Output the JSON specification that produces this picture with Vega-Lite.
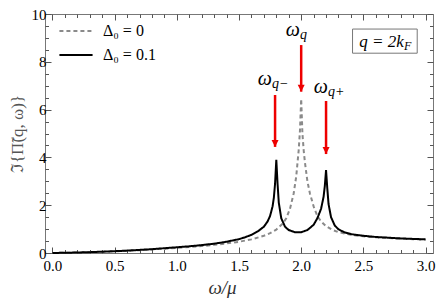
{
  "$schema": "https://vega.github.io/schema/vega-lite/v6.json",
  "width": 388,
  "height": 239,
  "autosize": {"type": "none"},
  "padding": {"left": 45, "top": 14, "right": 10, "bottom": 52},
  "background": "white",
  "config": {
    "view": {"stroke": "#777777", "strokeWidth": 1},
    "font": "Liberation Serif"
  },
  "datasets": {
    "curves": [
      {"x":0,"v":0,"s":"Δ₀ = 0"},{"x":0.1,"v":0.01,"s":"Δ₀ = 0"},{"x":0.2,"v":0.02,"s":"Δ₀ = 0"},{"x":0.3,"v":0.035,"s":"Δ₀ = 0"},{"x":0.4,"v":0.05,"s":"Δ₀ = 0"},{"x":0.5,"v":0.07,"s":"Δ₀ = 0"},{"x":0.6,"v":0.09,"s":"Δ₀ = 0"},{"x":0.7,"v":0.12,"s":"Δ₀ = 0"},{"x":0.8,"v":0.15,"s":"Δ₀ = 0"},{"x":0.9,"v":0.18,"s":"Δ₀ = 0"},{"x":1.0,"v":0.21,"s":"Δ₀ = 0"},{"x":1.1,"v":0.25,"s":"Δ₀ = 0"},{"x":1.2,"v":0.29,"s":"Δ₀ = 0"},{"x":1.3,"v":0.34,"s":"Δ₀ = 0"},{"x":1.4,"v":0.40,"s":"Δ₀ = 0"},{"x":1.5,"v":0.47,"s":"Δ₀ = 0"},{"x":1.6,"v":0.57,"s":"Δ₀ = 0"},{"x":1.7,"v":0.72,"s":"Δ₀ = 0"},{"x":1.75,"v":0.83,"s":"Δ₀ = 0"},{"x":1.8,"v":0.98,"s":"Δ₀ = 0"},{"x":1.85,"v":1.22,"s":"Δ₀ = 0"},{"x":1.88,"v":1.45,"s":"Δ₀ = 0"},{"x":1.91,"v":1.85,"s":"Δ₀ = 0"},{"x":1.94,"v":2.5,"s":"Δ₀ = 0"},{"x":1.96,"v":3.2,"s":"Δ₀ = 0"},{"x":1.98,"v":4.3,"s":"Δ₀ = 0"},{"x":1.99,"v":5.1,"s":"Δ₀ = 0"},{"x":2.0,"v":6.45,"s":"Δ₀ = 0"},{"x":2.01,"v":5.0,"s":"Δ₀ = 0"},{"x":2.02,"v":4.3,"s":"Δ₀ = 0"},{"x":2.03,"v":3.8,"s":"Δ₀ = 0"},{"x":2.05,"v":3.0,"s":"Δ₀ = 0"},{"x":2.07,"v":2.5,"s":"Δ₀ = 0"},{"x":2.1,"v":1.95,"s":"Δ₀ = 0"},{"x":2.13,"v":1.55,"s":"Δ₀ = 0"},{"x":2.16,"v":1.32,"s":"Δ₀ = 0"},{"x":2.2,"v":1.12,"s":"Δ₀ = 0"},{"x":2.25,"v":0.97,"s":"Δ₀ = 0"},{"x":2.3,"v":0.87,"s":"Δ₀ = 0"},{"x":2.4,"v":0.76,"s":"Δ₀ = 0"},{"x":2.5,"v":0.70,"s":"Δ₀ = 0"},{"x":2.6,"v":0.66,"s":"Δ₀ = 0"},{"x":2.7,"v":0.63,"s":"Δ₀ = 0"},{"x":2.8,"v":0.60,"s":"Δ₀ = 0"},{"x":2.9,"v":0.58,"s":"Δ₀ = 0"},{"x":3.0,"v":0.56,"s":"Δ₀ = 0"},
      {"x":0,"v":0,"s":"Δ₀ = 0.1"},{"x":0.1,"v":0.01,"s":"Δ₀ = 0.1"},{"x":0.2,"v":0.02,"s":"Δ₀ = 0.1"},{"x":0.3,"v":0.035,"s":"Δ₀ = 0.1"},{"x":0.4,"v":0.055,"s":"Δ₀ = 0.1"},{"x":0.5,"v":0.075,"s":"Δ₀ = 0.1"},{"x":0.6,"v":0.10,"s":"Δ₀ = 0.1"},{"x":0.7,"v":0.13,"s":"Δ₀ = 0.1"},{"x":0.8,"v":0.16,"s":"Δ₀ = 0.1"},{"x":0.9,"v":0.20,"s":"Δ₀ = 0.1"},{"x":1.0,"v":0.24,"s":"Δ₀ = 0.1"},{"x":1.1,"v":0.28,"s":"Δ₀ = 0.1"},{"x":1.2,"v":0.33,"s":"Δ₀ = 0.1"},{"x":1.3,"v":0.39,"s":"Δ₀ = 0.1"},{"x":1.4,"v":0.47,"s":"Δ₀ = 0.1"},{"x":1.5,"v":0.58,"s":"Δ₀ = 0.1"},{"x":1.55,"v":0.66,"s":"Δ₀ = 0.1"},{"x":1.6,"v":0.76,"s":"Δ₀ = 0.1"},{"x":1.65,"v":0.9,"s":"Δ₀ = 0.1"},{"x":1.7,"v":1.1,"s":"Δ₀ = 0.1"},{"x":1.73,"v":1.32,"s":"Δ₀ = 0.1"},{"x":1.75,"v":1.55,"s":"Δ₀ = 0.1"},{"x":1.77,"v":1.95,"s":"Δ₀ = 0.1"},{"x":1.78,"v":2.3,"s":"Δ₀ = 0.1"},{"x":1.79,"v":2.9,"s":"Δ₀ = 0.1"},{"x":1.8,"v":3.9,"s":"Δ₀ = 0.1"},{"x":1.81,"v":2.9,"s":"Δ₀ = 0.1"},{"x":1.82,"v":2.1,"s":"Δ₀ = 0.1"},{"x":1.84,"v":1.45,"s":"Δ₀ = 0.1"},{"x":1.87,"v":1.1,"s":"Δ₀ = 0.1"},{"x":1.9,"v":0.96,"s":"Δ₀ = 0.1"},{"x":1.95,"v":0.87,"s":"Δ₀ = 0.1"},{"x":2.0,"v":0.87,"s":"Δ₀ = 0.1"},{"x":2.05,"v":0.96,"s":"Δ₀ = 0.1"},{"x":2.1,"v":1.18,"s":"Δ₀ = 0.1"},{"x":2.13,"v":1.45,"s":"Δ₀ = 0.1"},{"x":2.16,"v":1.85,"s":"Δ₀ = 0.1"},{"x":2.18,"v":2.35,"s":"Δ₀ = 0.1"},{"x":2.19,"v":2.8,"s":"Δ₀ = 0.1"},{"x":2.2,"v":3.47,"s":"Δ₀ = 0.1"},{"x":2.21,"v":2.7,"s":"Δ₀ = 0.1"},{"x":2.22,"v":2.05,"s":"Δ₀ = 0.1"},{"x":2.24,"v":1.5,"s":"Δ₀ = 0.1"},{"x":2.27,"v":1.15,"s":"Δ₀ = 0.1"},{"x":2.3,"v":0.99,"s":"Δ₀ = 0.1"},{"x":2.35,"v":0.86,"s":"Δ₀ = 0.1"},{"x":2.4,"v":0.79,"s":"Δ₀ = 0.1"},{"x":2.5,"v":0.72,"s":"Δ₀ = 0.1"},{"x":2.6,"v":0.67,"s":"Δ₀ = 0.1"},{"x":2.7,"v":0.64,"s":"Δ₀ = 0.1"},{"x":2.8,"v":0.61,"s":"Δ₀ = 0.1"},{"x":2.9,"v":0.59,"s":"Δ₀ = 0.1"},{"x":3.0,"v":0.57,"s":"Δ₀ = 0.1"}
    ],
    "arrows": [
      {"x":1.79,"top":6.61,"tip":4.44},
      {"x":2.0,"top":8.7,"tip":6.75},
      {"x":2.2,"top":6.36,"tip":4.14}
    ],
    "labels": [
      {"x":1.765,"y":7.03,"main":"ω","sub":"q−"},
      {"x":1.99,"y":9.08,"main":"ω","sub":"q"},
      {"x":2.215,"y":6.69,"main":"ω","sub":"q+"}
    ],
    "box": [
      {"x1":2.413,"x2":2.933,"y1":9.37,"y2":8.36,"x":2.826,"y":8.6,"main":"q = 2k","sub":"F"}
    ]
  },
  "resolve": {"axis": {"x": "independent", "y": "independent"}},
  "layer": [
    {
      "data": {"name": "curves"},
      "mark": {"type": "line", "strokeWidth": 2},
      "encoding": {
        "x": {
          "field": "x", "type": "quantitative",
          "scale": {"domain": [-0.06, 3.06], "nice": false, "zero": false},
          "axis": {
            "orient": "bottom",
            "values": [0,0.1,0.2,0.3,0.4,0.5,0.6,0.7,0.8,0.9,1,1.1,1.2,1.3,1.4,1.5,1.6,1.7,1.8,1.9,2,2.1,2.2,2.3,2.4,2.5,2.6,2.7,2.8,2.9,3],
            "labelExpr": "abs(datum.value*2 - round(datum.value*2)) < 1e-6 ? format(datum.value, '.1f') : ''",
            "tickSize": {"condition": {"test": "abs(datum.value*2 - round(datum.value*2)) < 1e-6", "value": -6}, "value": -3.5},
            "tickColor": "#555555",
            "domain": false,
            "grid": false,
            "labelFont": "Liberation Serif",
            "labelFontSize": 15,
            "labelColor": "#000000",
            "labelPadding": 11,
            "labelOverlap": false,
            "labelFlush": false,
            "title": "ω/μ",
            "titleFont": "Liberation Serif",
            "titleFontStyle": "italic",
            "titleFontWeight": "normal",
            "titleFontSize": 19,
            "titleColor": "#333333",
            "titleX": 177,
            "titlePadding": 3
          }
        },
        "y": {
          "field": "v", "type": "quantitative",
          "scale": {"domain": [0, 10], "nice": false, "zero": false},
          "axis": {
            "orient": "left",
            "values": [0,0.5,1,1.5,2,2.5,3,3.5,4,4.5,5,5.5,6,6.5,7,7.5,8,8.5,9,9.5,10],
            "labelExpr": "abs(datum.value/2 - round(datum.value/2)) < 1e-6 ? format(datum.value, 'd') : ''",
            "tickSize": {"condition": {"test": "abs(datum.value/2 - round(datum.value/2)) < 1e-6", "value": -6}, "value": -3.5},
            "tickColor": "#555555",
            "domain": false,
            "grid": false,
            "labelFont": "Liberation Serif",
            "labelFontSize": 15,
            "labelColor": "#000000",
            "labelPadding": 5,
            "labelOverlap": false,
            "labelFlush": false,
            "title": "ℑ{Π̃(q, ω)}",
            "titleFont": "Liberation Serif",
            "titleFontWeight": "normal",
            "titleFontSize": 17,
            "titleColor": "#555555",
            "titlePadding": 5
          }
        },
        "color": {
          "field": "s", "type": "nominal",
          "scale": {"domain": ["Δ₀ = 0", "Δ₀ = 0.1"], "range": ["#8a8a8a", "#000000"]},
          "legend": {
            "orient": "none", "legendX": 13, "legendY": 9, "title": null,
            "symbolType": "stroke", "symbolSize": 1100, "symbolStrokeWidth": 2,
            "labelFont": "Liberation Serif", "labelFontSize": 16, "labelColor": "#000000",
            "clipHeight": 16, "rowPadding": 8, "labelOffset": 9
          }
        },
        "strokeDash": {
          "field": "s", "type": "nominal",
          "scale": {"domain": ["Δ₀ = 0", "Δ₀ = 0.1"], "range": [[4, 3], [1, 0]]},
          "legend": null
        }
      }
    },
    {
      "data": {"name": "box"},
      "mark": {"type": "rect", "fill": "#ffffff", "stroke": "#777777", "strokeWidth": 1},
      "encoding": {
        "x": {
          "field": "x1", "type": "quantitative",
          "scale": {"domain": [-0.06, 3.06], "nice": false, "zero": false},
          "axis": {
            "orient": "top",
            "values": [0,0.1,0.2,0.3,0.4,0.5,0.6,0.7,0.8,0.9,1,1.1,1.2,1.3,1.4,1.5,1.6,1.7,1.8,1.9,2,2.1,2.2,2.3,2.4,2.5,2.6,2.7,2.8,2.9,3],
            "labels": false,
            "tickSize": {"condition": {"test": "abs(datum.value*2 - round(datum.value*2)) < 1e-6", "value": -6}, "value": -3.5},
            "tickColor": "#555555",
            "domain": false, "grid": false, "title": null
          }
        },
        "x2": {"field": "x2"},
        "y": {
          "field": "y1", "type": "quantitative",
          "scale": {"domain": [0, 10], "nice": false, "zero": false},
          "axis": {
            "orient": "right",
            "values": [0,0.5,1,1.5,2,2.5,3,3.5,4,4.5,5,5.5,6,6.5,7,7.5,8,8.5,9,9.5,10],
            "labels": false,
            "tickSize": {"condition": {"test": "abs(datum.value/2 - round(datum.value/2)) < 1e-6", "value": -6}, "value": -3.5},
            "tickColor": "#555555",
            "domain": false, "grid": false, "title": null
          }
        },
        "y2": {"field": "y2"}
      }
    },
    {
      "data": {"name": "box"},
      "mark": {"type": "text", "align": "right", "baseline": "alphabetic", "font": "Liberation Serif", "fontStyle": "italic", "fontSize": 17, "color": "#000000"},
      "encoding": {
        "x": {"field": "x", "type": "quantitative", "scale": {"domain": [-0.06, 3.06], "nice": false, "zero": false}, "axis": null},
        "y": {"field": "y", "type": "quantitative", "scale": {"domain": [0, 10], "nice": false, "zero": false}, "axis": null},
        "text": {"field": "main"}
      }
    },
    {
      "data": {"name": "box"},
      "mark": {"type": "text", "align": "left", "baseline": "alphabetic", "font": "Liberation Serif", "fontStyle": "italic", "fontSize": 12, "dy": 3, "color": "#000000"},
      "encoding": {
        "x": {"field": "x", "type": "quantitative", "scale": {"domain": [-0.06, 3.06], "nice": false, "zero": false}, "axis": null},
        "y": {"field": "y", "type": "quantitative", "scale": {"domain": [0, 10], "nice": false, "zero": false}, "axis": null},
        "text": {"field": "sub"}
      }
    },
    {
      "data": {"name": "arrows"},
      "mark": {"type": "rule", "color": "#ee0000", "strokeWidth": 2.5},
      "encoding": {
        "x": {"field": "x", "type": "quantitative", "scale": {"domain": [-0.06, 3.06], "nice": false, "zero": false}, "axis": null},
        "y": {"field": "top", "type": "quantitative", "scale": {"domain": [0, 10], "nice": false, "zero": false}, "axis": null},
        "y2": {"field": "tip"}
      }
    },
    {
      "data": {"name": "arrows"},
      "mark": {"type": "point", "shape": "M-0.5,-1L0.5,-1L0,0Z", "size": 196, "filled": true, "color": "#ee0000", "opacity": 1, "strokeWidth": 0},
      "encoding": {
        "x": {"field": "x", "type": "quantitative", "scale": {"domain": [-0.06, 3.06], "nice": false, "zero": false}, "axis": null},
        "y": {"field": "tip", "type": "quantitative", "scale": {"domain": [0, 10], "nice": false, "zero": false}, "axis": null}
      }
    },
    {
      "data": {"name": "labels"},
      "mark": {"type": "text", "align": "right", "baseline": "alphabetic", "font": "Liberation Serif", "fontStyle": "italic", "fontSize": 20, "color": "#000000"},
      "encoding": {
        "x": {"field": "x", "type": "quantitative", "scale": {"domain": [-0.06, 3.06], "nice": false, "zero": false}, "axis": null},
        "y": {"field": "y", "type": "quantitative", "scale": {"domain": [0, 10], "nice": false, "zero": false}, "axis": null},
        "text": {"field": "main"}
      }
    },
    {
      "data": {"name": "labels"},
      "mark": {"type": "text", "align": "left", "baseline": "alphabetic", "font": "Liberation Serif", "fontStyle": "italic", "fontSize": 14, "dy": 3, "color": "#000000"},
      "encoding": {
        "x": {"field": "x", "type": "quantitative", "scale": {"domain": [-0.06, 3.06], "nice": false, "zero": false}, "axis": null},
        "y": {"field": "y", "type": "quantitative", "scale": {"domain": [0, 10], "nice": false, "zero": false}, "axis": null},
        "text": {"field": "sub"}
      }
    }
  ]
}
